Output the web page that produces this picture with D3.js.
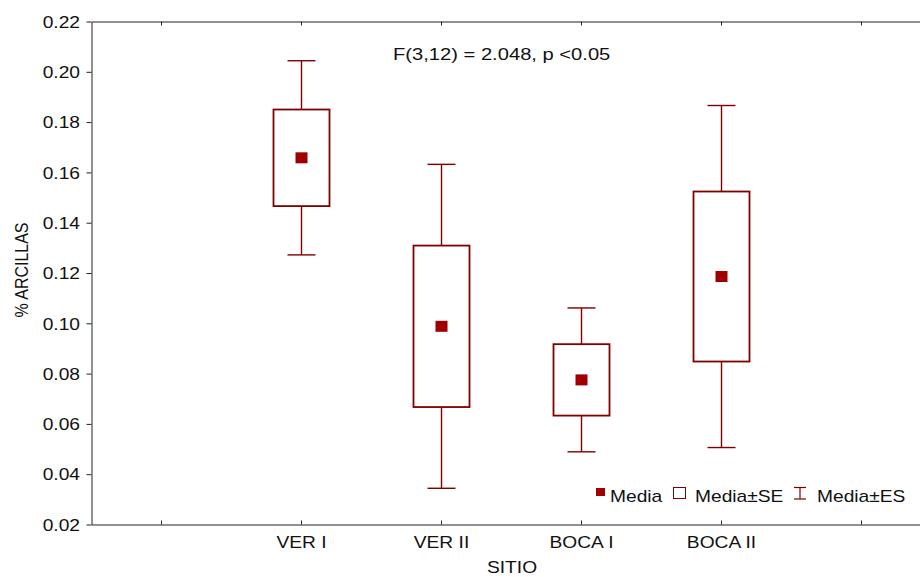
<!DOCTYPE html>
<html>
<head>
<meta charset="utf-8">
<script src="https://cdn.jsdelivr.net/npm/d3@7"></script>
<style>
  html, body { margin: 0; padding: 0; background: #fff; }
  svg { display: block; font-family: "Liberation Sans", Arial, sans-serif; }
</style>
</head>
<body>
<svg id="chart" width="920" height="577"></svg>
<script>
// ---- data ----
const categories = ["VER I", "VER II", "BOCA I", "BOCA II"];
const slotLabels = ["", "VER I", "VER II", "BOCA I", "BOCA II", ""];
const means = [0.1658, 0.0988, 0.0775, 0.1186];
const se    = [0.0192, 0.0321, 0.0142, 0.0338];
const es    = [0.0386, 0.0644, 0.0286, 0.0680];
const yTicks = [0.02, 0.04, 0.06, 0.08, 0.10, 0.12, 0.14, 0.16, 0.18, 0.20, 0.22];
const annotation = "F(3,12) = 2.048, p <0.05";
const xTitle = "SITIO";
const yTitle = "% ARCILLAS";
const legendLabels = ["Media", "Media\u00B1SE", "Media\u00B1ES"];

// ---- layout ----
const SX = 1.2; // horizontal text stretch of the original
const boxStroke = "#800000";
const meanFill = "#a00000";
const axisColor = "#222";

const svg = d3.select("#chart");
const x = d3.scaleBand().domain(d3.range(slotLabels.length)).range([91.5, 931.5]);
const y = d3.scaleLinear().domain([0.02, 0.22]).range([524.5, 21.5]);
const cx = i => x(i + 1) + x.bandwidth() / 2;

// axes
const gLeft = svg.append("g").attr("transform", "translate(91.5,0)")
  .call(d3.axisLeft(y).tickValues(yTicks).tickFormat(d3.format(".2f")).tickSizeInner(5).tickSizeOuter(0));
const gBottom = svg.append("g").attr("transform", "translate(0,524.5)")
  .call(d3.axisBottom(x).tickFormat(i => slotLabels[i]).tickSizeInner(-4).tickSizeOuter(0));
const gTop = svg.append("g").attr("transform", "translate(0,21.5)")
  .call(d3.axisTop(x).tickFormat("").tickSizeInner(-4).tickSizeOuter(0));

[gLeft, gBottom, gTop].forEach(g => {
  g.selectAll("path, line").attr("stroke", axisColor).attr("stroke-width", 1);
  g.selectAll("text").attr("fill", "#111").style("font-size", "16px")
    .style("font-family", '"Liberation Sans", Arial, sans-serif');
});
gLeft.selectAll("text").attr("x", -11.5 / SX).attr("dy", "0.36em")
  .attr("transform", `scale(${SX},1)`);
gBottom.selectAll("text").attr("y", 24).attr("dy", 0)
  .attr("transform", `scale(${SX},1)`);

// boxes
const bw = x.bandwidth() * 0.4;
const cw = x.bandwidth() * 0.2;
const g = svg.append("g");
categories.forEach((c, i) => {
  const xc = cx(i);
  // whiskers
  g.append("line").attr("x1", xc).attr("x2", xc)
    .attr("y1", y(means[i] + es[i])).attr("y2", y(means[i] + se[i]))
    .attr("stroke", boxStroke).attr("stroke-width", 1.4);
  g.append("line").attr("x1", xc).attr("x2", xc)
    .attr("y1", y(means[i] - se[i])).attr("y2", y(means[i] - es[i]))
    .attr("stroke", boxStroke).attr("stroke-width", 1.4);
  [means[i] + es[i], means[i] - es[i]].forEach(v => {
    g.append("line").attr("x1", xc - cw / 2).attr("x2", xc + cw / 2)
      .attr("y1", y(v)).attr("y2", y(v))
      .attr("stroke", boxStroke).attr("stroke-width", 1.4);
  });
  // box
  g.append("rect").attr("x", xc - bw / 2).attr("width", bw)
    .attr("y", y(means[i] + se[i])).attr("height", y(means[i] - se[i]) - y(means[i] + se[i]))
    .attr("fill", "none").attr("stroke", boxStroke).attr("stroke-width", 1.8);
  // mean
  g.append("rect").attr("x", xc - 6).attr("width", 12)
    .attr("y", y(means[i]) - 5.5).attr("height", 11)
    .attr("fill", meanFill);
});

// annotation
svg.append("text").attr("transform", `translate(393,60) scale(${SX},1)`)
  .style("font-size", "16.8px").attr("fill", "#111").text(annotation);

// axis titles
svg.append("text").attr("transform", `translate(512,573) scale(${SX},1)`)
  .attr("text-anchor", "middle").style("font-size", "16px").attr("fill", "#111").text(xTitle);
svg.append("text").attr("transform", `translate(28,270) scale(${SX},1) rotate(-90)`)
  .attr("text-anchor", "middle").style("font-size", "16px").attr("fill", "#111").text(yTitle);

// legend
const lg = svg.append("g");
lg.append("rect").attr("x", 596).attr("y", 488).attr("width", 9).attr("height", 8).attr("fill", meanFill);
lg.append("text").attr("transform", `translate(610,501.5) scale(${SX},1)`)
  .style("font-size", "16px").attr("fill", "#111").text(legendLabels[0]);
lg.append("rect").attr("x", 673.5).attr("y", 487.5).attr("width", 12).attr("height", 11)
  .attr("fill", "none").attr("stroke", boxStroke).attr("stroke-width", 1);
lg.append("text").attr("transform", `translate(695,501.5) scale(${SX},1)`)
  .style("font-size", "16px").attr("fill", "#111").text(legendLabels[1]);
lg.append("line").attr("x1", 800).attr("x2", 800).attr("y1", 487.5).attr("y2", 499)
  .attr("stroke", boxStroke).attr("stroke-width", 1.2);
[487.5, 499].forEach(yy => lg.append("line").attr("x1", 794).attr("x2", 806)
  .attr("y1", yy).attr("y2", yy).attr("stroke", boxStroke).attr("stroke-width", 1.2));
lg.append("text").attr("transform", `translate(817,501.5) scale(${SX},1)`)
  .style("font-size", "16px").attr("fill", "#111").text(legendLabels[2]);
</script>
</body>
</html>
